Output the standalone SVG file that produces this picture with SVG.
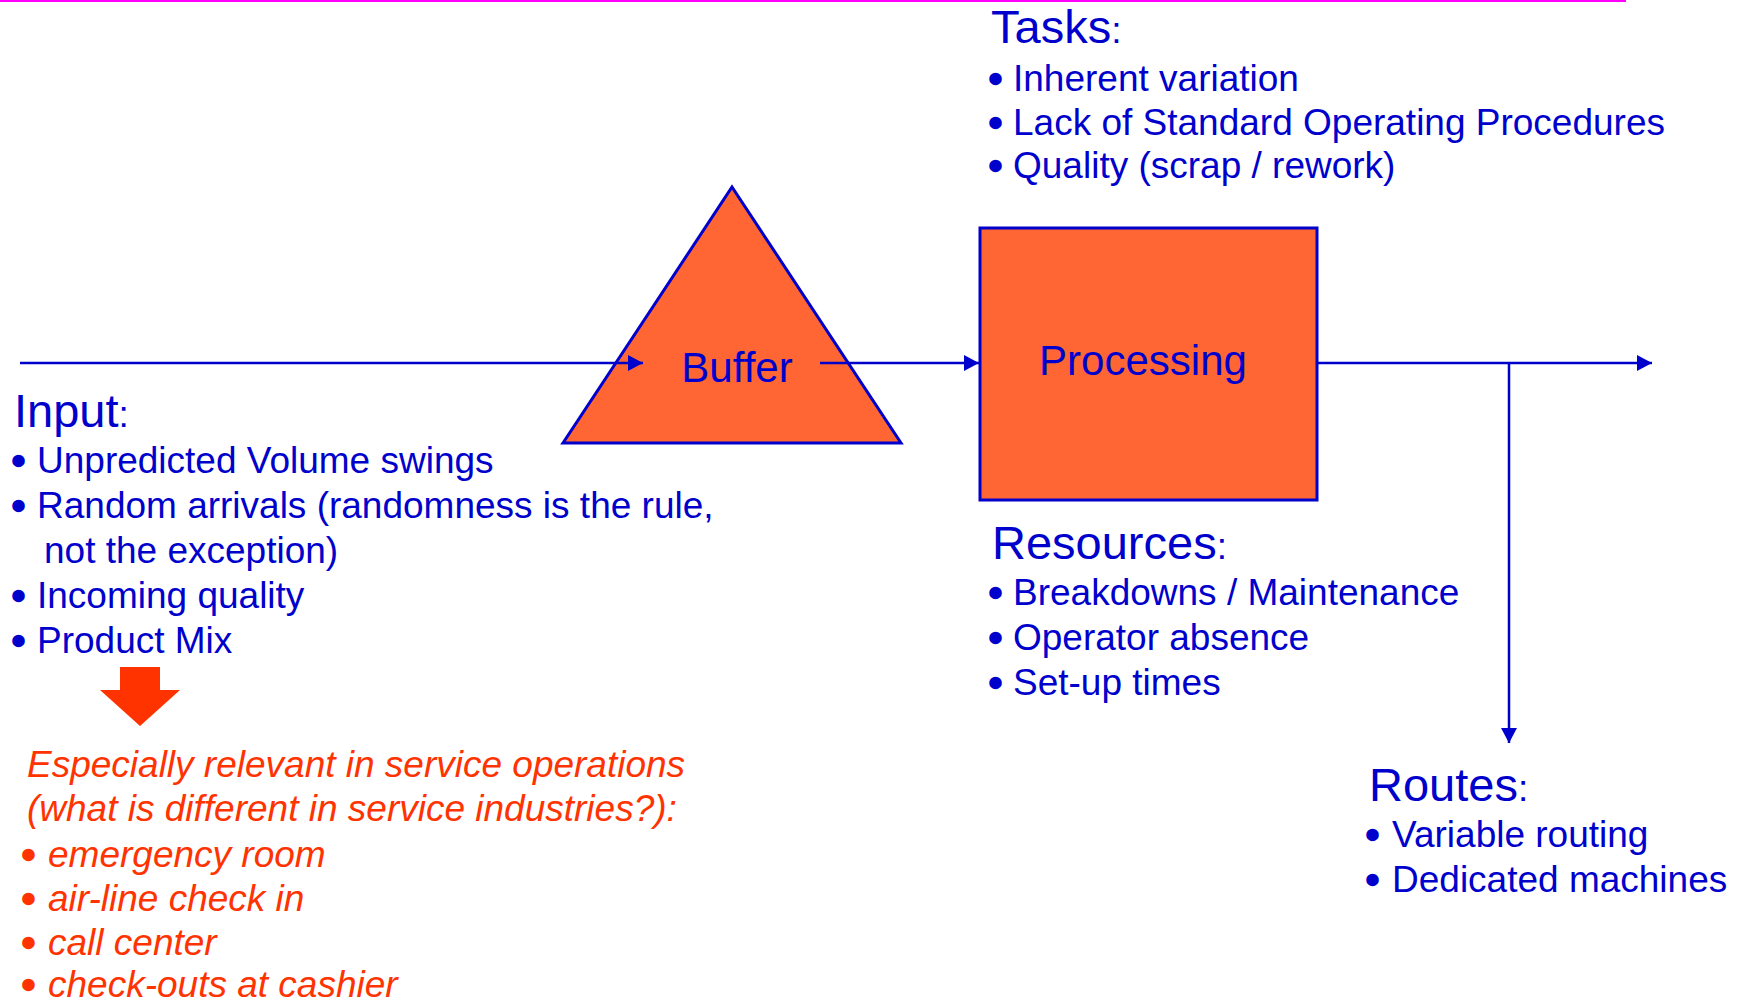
<svg xmlns="http://www.w3.org/2000/svg" width="1743" height="1003" viewBox="0 0 1743 1003">
<style>
text{font-family:"Liberation Sans",Arial,sans-serif;fill:#0000cc;font-size:37px}
.h{font-size:47px}
.bl{stroke:#0000cc;stroke-width:2.5}
.r{fill:#ff3300;font-style:italic}
.rb{font-style:normal;stroke:#ff3300;stroke-width:2.5}
.lbl{font-size:42px;text-anchor:middle}
.ln{stroke:#0000cc;stroke-width:2.5;fill:none}
.shape{fill:#ff6633;stroke:#0000cc;stroke-width:3}
</style>
<defs>
<marker id="ah" markerUnits="userSpaceOnUse" markerWidth="16" markerHeight="16" refX="15" refY="8" orient="auto">
<path d="M0,0 L15,8 L0,16 Z" fill="#0000cc"/>
</marker>
</defs>
<rect width="1743" height="1003" fill="#ffffff"/>
<line x1="0" y1="1" x2="1626" y2="1" stroke="#ff00ff" stroke-width="2"/>

<g id="buffer">
<polygon class="shape" points="732,187 901,443 563,443"/>
<text class="lbl" x="737" y="382">Buffer</text>
</g>

<g id="processing">
<rect class="shape" x="980" y="228" width="337" height="272"/>
<text class="lbl" x="1143" y="375">Processing</text>
</g>

<g id="connectors">
<line class="ln" x1="20" y1="363" x2="643" y2="363" marker-end="url(#ah)"/>
<line class="ln" x1="820" y1="363" x2="979" y2="363" marker-end="url(#ah)"/>
<line class="ln" x1="1317" y1="363" x2="1652" y2="363" marker-end="url(#ah)"/>
<line class="ln" x1="1509" y1="363" x2="1509" y2="743" marker-end="url(#ah)"/>
</g>

<g id="tasks">
<text x="991" y="43"><tspan class="h">Tasks</tspan>:</text>
<text y="91"><tspan class="bl" x="989">•</tspan><tspan x="1013">Inherent variation</tspan></text>
<text y="135"><tspan class="bl" x="989">•</tspan><tspan x="1013">Lack of Standard Operating Procedures</tspan></text>
<text y="178"><tspan class="bl" x="989">•</tspan><tspan x="1013">Quality (scrap / rework)</tspan></text>
</g>

<g id="input">
<text x="14" y="427"><tspan class="h">Input</tspan>:</text>
<text y="473"><tspan class="bl" x="12">•</tspan><tspan x="37">Unpredicted Volume swings</tspan></text>
<text y="518"><tspan class="bl" x="12">•</tspan><tspan x="37">Random arrivals (randomness is the rule,</tspan><tspan x="44" y="563">not the exception)</tspan></text>
<text y="608"><tspan class="bl" x="12">•</tspan><tspan x="37">Incoming quality</tspan></text>
<text y="653"><tspan class="bl" x="12">•</tspan><tspan x="37">Product Mix</tspan></text>
</g>

<g id="resources">
<text x="992" y="559"><tspan class="h">Resources</tspan>:</text>
<text y="605"><tspan class="bl" x="989">•</tspan><tspan x="1013">Breakdowns / Maintenance</tspan></text>
<text y="650"><tspan class="bl" x="989">•</tspan><tspan x="1013">Operator absence</tspan></text>
<text y="695"><tspan class="bl" x="989">•</tspan><tspan x="1013">Set-up times</tspan></text>
</g>

<g id="routes">
<text x="1369" y="801"><tspan class="h">Routes</tspan>:</text>
<text y="847"><tspan class="bl" x="1366">•</tspan><tspan x="1392">Variable routing</tspan></text>
<text y="892"><tspan class="bl" x="1366">•</tspan><tspan x="1392">Dedicated machines</tspan></text>
</g>

<g id="down-arrow">
<polygon points="120,667 160,667 160,690 180,690 140,726 100,690 120,690" fill="#ff3300"/>
</g>

<g id="service">
<text class="r"><tspan x="27" y="777">Especially relevant in service operations</tspan><tspan x="27" y="821">(what is different in service industries?):</tspan></text>
<text class="r" y="867"><tspan class="rb" x="22">•</tspan><tspan x="48">emergency room</tspan></text>
<text class="r" y="911"><tspan class="rb" x="22">•</tspan><tspan x="48">air-line check in</tspan></text>
<text class="r" y="955"><tspan class="rb" x="22">•</tspan><tspan x="48">call center</tspan></text>
<text class="r" y="997"><tspan class="rb" x="22">•</tspan><tspan x="48">check-outs at cashier</tspan></text>
</g>
</svg>
